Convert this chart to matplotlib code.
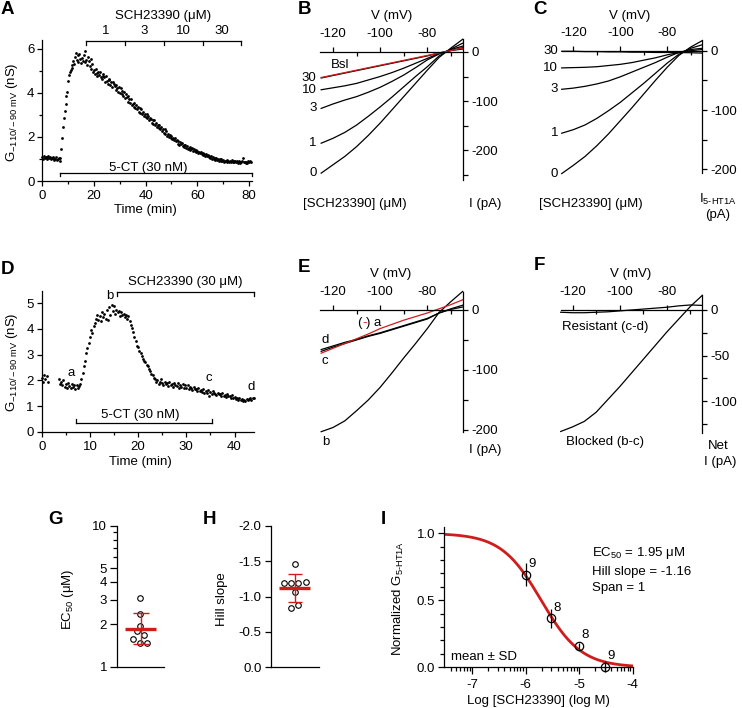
import numpy as np
import matplotlib
matplotlib.use("Agg")
import matplotlib.pyplot as plt
from matplotlib.ticker import FixedLocator, NullFormatter, FormatStrFormatter, FixedFormatter

plt.rcParams['font.family'] = ['Liberation Sans', 'DejaVu Sans']
plt.rcParams['font.size'] = 9.5
plt.rcParams['axes.unicode_minus'] = False
plt.rcParams['mathtext.fontset'] = 'custom'
plt.rcParams['mathtext.rm'] = 'Liberation Sans'
plt.rcParams['mathtext.it'] = 'Liberation Sans:italic'
plt.rcParams['mathtext.default'] = 'regular'
plt.rcParams['axes.linewidth'] = 0.9
plt.rcParams['xtick.major.width'] = 0.9
plt.rcParams['ytick.major.width'] = 0.9
plt.rcParams['xtick.minor.width'] = 0.9
plt.rcParams['ytick.minor.width'] = 0.9

RED = '#d01c1c'

# ---------------- DATA ----------------
# Panel A: G(-110/-90 mV) (nS), 3 samples per minute from t = 0
a_dt = 1.0 / 3.0
a_g = [
    1.08, 1.02, 1.12, 1.05, 1.10, 0.98, 1.07, 1.13, 1.03, 1.09, 1.00, 1.06,
    1.11, 1.04, 0.97, 1.02, 1.08, 0.95, 1.00, 1.06, 0.93, 1.05, 1.45, 1.95,
    2.45, 2.85, 3.20, 3.50, 3.85, 4.05, 4.55, 4.80, 4.95, 5.05, 5.25, 5.15,
    5.45, 5.30, 5.65, 5.80, 5.50, 5.70, 5.40, 5.75, 5.55, 5.35, 5.60, 5.45,
    5.70, 5.40, 5.90, 5.50, 5.25, 5.65, 5.45, 5.20, 5.55, 5.10, 5.30, 4.95,
    5.05, 4.85, 5.10, 4.90, 4.75, 4.95, 4.80, 4.95, 4.70, 4.65, 4.85, 4.75,
    4.70, 4.50, 4.75, 4.55, 4.40, 4.65, 4.60, 4.35, 4.50, 4.25, 4.50, 4.40,
    4.30, 4.15, 4.35, 4.20, 4.05, 4.25, 4.00, 4.20, 3.95, 4.10, 3.85, 4.05,
    3.75, 3.95, 3.80, 3.85, 3.60, 3.70, 3.55, 3.70, 3.45, 3.50, 3.35, 3.55,
    3.30, 3.45, 3.25, 3.35, 3.15, 3.30, 3.10, 3.25, 3.05, 3.15, 2.95, 3.05,
    2.90, 3.05, 2.85, 2.95, 2.75, 2.85, 2.80, 2.65, 2.75, 2.60, 2.75, 2.55,
    2.65, 2.45, 2.55, 2.40, 2.55, 2.35, 2.45, 2.25, 2.35, 2.20, 2.35, 2.15,
    2.25, 2.05, 2.15, 2.00, 2.10, 1.95, 2.05, 1.90, 1.95, 1.85, 1.95, 1.80,
    1.85, 1.70, 1.80, 1.65, 1.78, 1.68, 1.72, 1.60, 1.65, 1.55, 1.62, 1.50,
    1.58, 1.45, 1.52, 1.42, 1.55, 1.45, 1.48, 1.38, 1.43, 1.35, 1.42, 1.32,
    1.38, 1.28, 1.33, 1.25, 1.32, 1.22, 1.28, 1.18, 1.24, 1.15, 1.22, 1.12,
    1.18, 1.08, 1.14, 1.05, 1.12, 1.02, 1.08, 0.99, 1.04, 0.97, 1.03, 0.95,
    1.00, 0.93, 0.98, 0.92, 0.98, 0.90, 0.96, 0.88, 0.93, 0.90, 0.95, 0.87,
    0.93, 0.86, 0.91, 0.88, 0.94, 0.85, 0.91, 0.84, 0.89, 0.86, 0.92, 0.83,
    0.89, 0.82, 0.87, 0.85, 0.90, 1.05, 0.84, 0.88, 0.81, 0.87, 0.83, 0.90,
    0.85, 0.92, 0.88,
]
a_sch_edges = [17, 32, 47, 62, 77]
a_sch_labels = ['1', '3', '10', '30']
a_ct_on = [7, 81]

# Panel D: 4 samples per minute from t = 0 (nan = not recorded)
nan = float('nan')
d_dt = 0.25
d_g = [
    2.10, 1.95, 2.20, 2.05, 2.15, 1.92, nan, nan, nan, nan, nan, nan,
    nan, nan, 2.05, 1.85, 1.95, 1.80, 2.00, 1.75, 1.85, 1.72, 1.90, 1.78,
    1.70, 1.85, 1.75, 1.82, 1.68, 1.80, 1.72, 1.78, 1.85, 2.05, 2.30, 2.55,
    2.75, 3.05, 3.25, 3.45, 3.70, 3.95, 3.85, 4.10, 4.25, 4.40, 4.55, 4.35,
    4.50, 4.30, 4.65, 4.45, 4.60, 4.40, 4.75, 4.35, 4.85, 4.55, 4.95, 4.70,
    4.90, 4.60, 4.75, 4.65, 4.70, 4.50, 4.65, 4.55, 4.60, 4.45, 4.55, 4.40,
    4.50, 4.30, 4.15, 4.05, 3.90, 3.70, 3.55, 3.35, 3.30, 3.15, 3.05, 2.95,
    2.85, 2.75, 2.70, 2.60, 2.55, 2.45, 2.35, 2.25, 2.20, 2.10, 2.05, 1.95,
    2.00, 1.85, 1.95, 2.05, 1.90, 1.80, 1.95, 1.85, 1.88, 1.78, 1.92, 1.82,
    1.85, 1.75, 1.90, 1.80, 1.78, 1.88, 1.72, 1.82, 1.75, 1.85, 1.70, 1.80,
    1.72, 1.82, 1.68, 1.75, 1.70, 1.62, 1.75, 1.66, 1.65, 1.58, 1.70, 1.60,
    1.62, 1.55, 1.66, 1.52, 1.58, 1.50, 1.63, 1.40, 1.55, 1.47, 1.58, 1.50,
    1.48, 1.42, 1.52, 1.45, 1.46, 1.40, 1.50, 1.38, 1.43, 1.36, 1.47, 1.40,
    1.38, 1.33, 1.42, 1.30, 1.36, 1.28, 1.33, 1.25, 1.30, 1.22, 1.28, 1.20,
    1.25, 1.20, 1.28, 1.22, 1.26, 1.30, 1.24, 1.32, 1.30,
]
d_sch_on = [15.7, 44]
d_ct_on = [7.1, 35.3]
d_marks = ['a', 'b', 'c', 'd']
d_mark_t = [6.1, 14.2, 34.6, 43.4]
d_mark_g = [2.27, 5.27, 2.08, 1.75]

# I-V traces (pA) sampled at these voltages (mV)
iv_v = [-125, -120, -115, -110, -105, -100, -95, -90, -85, -80, -75, -70, -65]

# Panel B: total current at each [SCH23390] (uM) and baseline
b_labels = ['0', '1', '3', '10', '30']
b_i0 = [-247, -230, -213, -193, -170, -145, -118, -91, -64, -37, -11, 8, 26]
b_i1 = [-186, -176, -164, -149, -131, -112, -92, -71, -50, -30, -8, 6, 18]
b_i3 = [-115, -106, -98, -91, -82, -72, -60, -47, -32, -16, -4, 5, 12]
b_i10 = [-77, -73, -69, -64, -57, -50, -42, -33, -23, -13, -3, 3, 9]
b_i30 = [-53, -48, -43, -38, -33, -28, -23, -18, -13, -8, -2, 3, 6]
b_bsl = [-52, -47, -42, -37, -32, -27, -22, -17, -12, -7, -2, 3, 8]

# Panel C: 5-HT1A current at each [SCH23390] (uM)
c_i0 = [-207, -193, -178, -160, -140, -118, -96, -73, -50, -28, -8, 6, 17]
c_i1 = [-139, -133, -125, -114, -101, -87, -71, -55, -38, -21, -6, 4, 10]
c_i3 = [-65, -63, -60, -56, -51, -44, -36, -28, -20, -11, -3, 2, 4]
c_i10 = [-29, -28.5, -28, -27, -25, -23, -20, -16, -12, -7, -3, 0, 2]
c_i30 = [-1, -1, -1.5, -1.5, -2, -2, -2.5, -2.5, -3, -3, -3, -3.5, -4]

# Panel E: currents at time points a (control, red), b, c, d
e_a = [-72, -64, -56, -48, -40, -31, -24, -17, -11, -5, 2, 9, 17]
e_b = [-203, -196, -185, -168, -150, -129, -105, -80, -56, -31, -4, 14, 31]
e_c = [-69, -62, -56, -50, -44, -39, -33, -27, -21, -15, -5, 2, 8]
e_d = [-66, -60, -54, -49, -43, -38, -32, -26, -20, -14, -5, 1, 5]

# Panel F: net currents
f_blocked = [-133, -128, -122, -112, -98, -84, -69, -54, -39, -24, -10, 4, 16]
f_resistant = [-2.5, -3, -3, -2.5, -2, -1, 0, 1, 2, 3, 4.5, 5.5, 5]

# Panel G: EC50 (uM) per cell, with horizontal jitter
g_ec50 = [3.09, 2.37, 1.95, 1.79, 1.69, 1.57, 1.47, 1.47]
g_jitter = [0.49, 0.49, 0.49, 0.42, 0.57, 0.34, 0.49, 0.63]

# Panel H: Hill slope per cell
h_slope = [-1.46, -1.19, -1.19, -1.19, -1.21, -1.06, -0.84, -0.88]
h_jitter = [0.50, 0.28, 0.41, 0.57, 0.72, 0.50, 0.41, 0.57]

# Panel I: concentration-response
i_conc_uM = [1, 3, 10, 30]
i_mean = [0.69, 0.365, 0.16, 0.005]
i_sd = [0.085, 0.07, 0.025, 0.04]
i_n = [9, 8, 8, 9]
i_ec50_uM = 1.95
i_hill = -1.16
i_span = 1.0

# ---------------- FIGURE ----------------
W, H = 742, 708
fig = plt.figure(figsize=(W / 100, H / 100), dpi=100)


def pax(x0, y0, x1, y1):
    return fig.add_axes([x0 / W, 1 - y1 / H, (x1 - x0) / W, (y1 - y0) / H])


def ftxt(x, y, s, **kw):
    kw.setdefault('va', 'center')
    kw.setdefault('ha', 'center')
    return fig.text(x / W, 1 - y / H, s, **kw)


def letter(x, y, s):
    ftxt(x, y, s, ha='left', fontsize=13.5, fontweight='bold')


def bracket(ax, x0, x1, yf, tick, divs=()):
    tr = ax.get_xaxis_transform()
    ax.plot([x0, x1], [yf, yf], color='k', lw=0.9, transform=tr, clip_on=False)
    for x in [x0, x1] + list(divs):
        ax.plot([x, x], [yf, yf + tick], color='k', lw=0.9, transform=tr, clip_on=False)


def time_axes(ax):
    for s in ('top', 'right'):
        ax.spines[s].set_visible(False)
    ax.tick_params(which='major', direction='out', length=3.6)
    ax.tick_params(which='minor', direction='out', length=2.4)
    ax.tick_params(axis='x', which='major', pad=3)
    ax.tick_params(axis='y', which='major', pad=2)


# ---- Panel A ----
axA = pax(42.3, 40, 251.6, 181)
tA = np.arange(len(a_g)) * a_dt
axA.scatter(tA, a_g, s=4, c='k', linewidths=0, clip_on=False)
axA.set_xlim(0, 81)
axA.set_ylim(0, 6.4)
axA.set_xticks([0, 20, 40, 60, 80])
axA.xaxis.set_minor_locator(FixedLocator([10, 30, 50, 70]))
axA.set_yticks([0, 2, 4, 6])
axA.yaxis.set_minor_locator(FixedLocator([1, 3, 5]))
time_axes(axA)
bracket(axA, a_sch_edges[0], a_sch_edges[-1], 0.993, -0.025, a_sch_edges[1:-1])
for i, lab in enumerate(a_sch_labels):
    axA.text((a_sch_edges[i] + a_sch_edges[i + 1]) / 2, 1.065, lab,
             transform=axA.get_xaxis_transform(), ha='center', va='center')
ftxt(163, 16, 'SCH23390 (\u03bcM)')
bracket(axA, a_ct_on[0], a_ct_on[1], 0.057, -0.025)
axA.text(np.mean(a_ct_on) - 3, 0.095, '5-CT (30 nM)', transform=axA.get_xaxis_transform(),
         ha='center', va='center')
ftxt(145, 210, 'Time (min)')
ftxt(12, 112, r'G$_{-110/-90\ mV}$ (nS)', rotation=90)
letter(1, 10, 'A')

# ---- Panel D ----
axD = pax(41.7, 290.7, 253.8, 431.7)
tD = np.arange(len(d_g)) * d_dt
axD.scatter(tD, d_g, s=4, c='k', linewidths=0, clip_on=False)
axD.set_xlim(0, 44)
axD.set_ylim(0, 5.49)
axD.set_xticks([0, 10, 20, 30, 40])
axD.xaxis.set_minor_locator(FixedLocator([5, 15, 25, 35]))
axD.set_yticks([0, 1, 2, 3, 4, 5])
time_axes(axD)
bracket(axD, d_sch_on[0], d_sch_on[1], 0.989, -0.028)
ftxt(185, 282.5, 'SCH23390 (30 \u03bcM)')
bracket(axD, d_ct_on[0], d_ct_on[1], 0.06, 0.028)
ftxt(140, 415, '5-CT (30 nM)')
for m, t, g in zip(d_marks, d_mark_t, d_mark_g):
    axD.text(t, g, m, ha='center', va='center')
ftxt(140, 462, 'Time (min)')
ftxt(12, 362, r'G$_{-110/-90\ mV}$ (nS)', rotation=90)
letter(1, 269, 'D')


# ---- I-V panels ----
def iv_axes(x0, y0, x1, y1, xlim, ylim, ymaj, ymin):
    ax = pax(x0, y0, x1, y1)
    ax.set_xlim(*xlim)
    ax.set_ylim(*ylim)
    for s in ('left', 'bottom'):
        ax.spines[s].set_visible(False)
    ax.spines['top'].set_position(('data', 0))
    ax.xaxis.set_ticks_position('top')
    ax.yaxis.set_ticks_position('right')
    ax.set_xticks([-120, -100, -80])
    ax.xaxis.set_minor_locator(FixedLocator([-110, -90, -70]))
    ax.set_yticks(ymaj)
    ax.yaxis.set_minor_locator(FixedLocator(ymin))
    ax.tick_params(axis='x', which='major', direction='out', length=3.5, pad=5)
    ax.tick_params(axis='x', which='minor', direction='in', length=3)
    ax.tick_params(axis='y', which='major', direction='out', length=3.5, pad=2.5)
    ax.tick_params(axis='y', which='minor', direction='out', length=3.5)
    ax.patch.set_visible(False)
    return ax


# Panel B
axB = iv_axes(320, 39, 462.7, 180, (-125.5, -65), (-261, 26.5), [0, -100, -200], [-50, -150, -250])
for lab, tr in zip(b_labels, [b_i0, b_i1, b_i3, b_i10, b_i30]):
    axB.plot(iv_v, tr, color='k', lw=0.9, clip_on=False)
    axB.text(-127, tr[0], lab, ha='right', va='center')
axB.plot(iv_v, b_bsl, color=RED, lw=0.9, clip_on=False)
ftxt(340, 65.5, 'Bsl')
ftxt(392, 15.5, 'V (mV)')
ftxt(302.7, 203.5, '[SCH23390] (\u03bcM)', ha='left')
ftxt(484.7, 203.5, 'I (pA)')
letter(298, 9, 'B')

# Panel C
axC = iv_axes(561.7, 40, 702.3, 173, (-125, -65), (-206, 18), [0, -100, -200], [-50, -150])
for lab, tr in zip(b_labels, [c_i0, c_i1, c_i3, c_i10, c_i30]):
    axC.plot(iv_v, tr, color='k', lw=0.9, clip_on=False)
    axC.text(-126.5, tr[0], lab, ha='right', va='center')
ftxt(630, 15.5, 'V (mV)')
ftxt(539.3, 203.5, '[SCH23390] (\u03bcM)', ha='left')
ftxt(718, 199, r'I$_{5\text{-}HT1A}$')
ftxt(718, 215, '(pA)')
letter(533, 10, 'C')

# Panel E
axE = iv_axes(320, 291.7, 462.7, 431.7, (-125.5, -65), (-203, 30.5), [0, -100, -200], [-50, -150])
axE.plot(iv_v, e_d, color='k', lw=0.9, clip_on=False)
axE.plot(iv_v, e_c, color='k', lw=0.9, clip_on=False)
axE.plot(iv_v, e_b, color='k', lw=0.9, clip_on=False)
axE.plot(iv_v, e_a, color=RED, lw=0.9, clip_on=False)
ftxt(322, 340, 'd', ha='left')
ftxt(322, 361.5, 'c', ha='left')
ftxt(322, 442, 'b', ha='left')
ftxt(357, 323.3, '(', ha='left')
ftxt(362, 323.3, '-', ha='left', color=RED)
ftxt(366.5, 323.3, ') a', ha='left')
ftxt(391, 274, 'V (mV)')
ftxt(484.7, 450, 'I (pA)')
letter(298, 267.5, 'E')

# Panel F
axF = iv_axes(560.7, 295, 702.3, 433.3, (-125, -65), (-135, 16.4), [0, -50, -100], [-25, -75, -125])
axF.plot(iv_v, f_resistant, color='k', lw=0.9, clip_on=False)
axF.plot(iv_v, f_blocked, color='k', lw=0.9, clip_on=False)
ftxt(561.7, 326.7, 'Resistant (c-d)', ha='left')
ftxt(566, 442.5, 'Blocked (b-c)', ha='left')
ftxt(631, 274, 'V (mV)')
ftxt(718, 446, 'Net')
ftxt(720, 461.7, 'I (pA)')
letter(534, 266, 'F')

# ---- Panel G ----
axG = pax(116.7, 526, 164.3, 666.7)
axG.set_yscale('log')
axG.set_ylim(1, 10)
axG.set_xlim(0, 1)
lg = np.log10(g_ec50)
gm, gs = lg.mean(), lg.std(ddof=1)
axG.plot([0.18, 0.83], [10 ** gm, 10 ** gm], color=RED, lw=2.4, zorder=4, solid_capstyle='butt')
axG.errorbar([0.5], [10 ** gm], yerr=[[10 ** gm - 10 ** (gm - gs)], [10 ** (gm + gs) - 10 ** gm]],
             color=RED, lw=1.0, capsize=5.6, capthick=1.0, zorder=4)
axG.scatter(g_jitter, g_ec50, s=16, facecolors='white', edgecolors='k', linewidths=0.8, zorder=3)
for s in ('top', 'right'):
    axG.spines[s].set_visible(False)
axG.set_xticks([])
axG.yaxis.set_major_locator(FixedLocator([1, 2, 3, 4, 5, 10]))
axG.yaxis.set_major_formatter(FixedFormatter(['1', '2', '3', '4', '5', '10']))
axG.yaxis.set_minor_locator(FixedLocator([6, 7, 8, 9]))
axG.yaxis.set_minor_formatter(NullFormatter())
axG.tick_params(axis='y', which='major', length=5, pad=2)
axG.tick_params(axis='y', which='minor', length=3)
ftxt(67.5, 599, 'EC$_{50}$ (\u03bcM)', rotation=90)
letter(48, 520, 'G')

# ---- Panel H ----
axH = pax(271, 526, 319, 667.3)
axH.set_ylim(0, -2)
axH.set_xlim(0, 1)
hm, hs = np.mean(h_slope), np.std(h_slope, ddof=1)
axH.plot([0.17, 0.81], [hm, hm], color=RED, lw=2.4, zorder=4, solid_capstyle='butt')
axH.errorbar([0.5], [hm], yerr=[hs], color=RED, lw=1.0, capsize=5, capthick=1.0, zorder=4)
axH.scatter(h_jitter, h_slope, s=16, facecolors='white', edgecolors='k', linewidths=0.8, zorder=3)
for s in ('top', 'right'):
    axH.spines[s].set_visible(False)
axH.set_xticks([])
axH.set_yticks([0, -0.5, -1.0, -1.5, -2.0])
axH.yaxis.set_major_formatter(FormatStrFormatter('%.1f'))
axH.tick_params(axis='y', which='major', length=4.3, pad=2.4)
ftxt(221.7, 599, 'Hill slope', rotation=90)
letter(203, 520, 'H')

# ---- Panel I ----
axI = pax(444.3, 526.7, 632.7, 667.3)
axI.set_xlim(-7.52, -4)
axI.set_ylim(0, 1.049)
xs = np.linspace(-7.52, -4, 300)
log_ec50 = np.log10(i_ec50_uM * 1e-6)
axI.plot(xs, (1 - i_span) + i_span / (1 + 10 ** ((log_ec50 - xs) * i_hill)), color=RED, lw=2.0, zorder=2)
xc = np.log10(np.array(i_conc_uM) * 1e-6)
axI.errorbar(xc, i_mean, yerr=i_sd, fmt='o', mfc='none', mec='k', mew=0.9, ms=6,
             ecolor='k', elinewidth=0.9, capsize=0, zorder=3, clip_on=False)
for x, y, n in zip(xc, i_mean, i_n):
    axI.annotate(str(n), (x, y), xytext=(4.5, 7.7), textcoords='offset points', ha='center', va='center')
for s in ('top', 'right'):
    axI.spines[s].set_visible(False)
axI.set_xticks([-7, -6, -5, -4])
minors = [d + np.log10(k) for d in range(-8, -4) for k in range(2, 10)]
axI.xaxis.set_minor_locator(FixedLocator([m for m in minors if -7.52 <= m <= -4]))
axI.set_yticks([0, 0.5, 1.0])
axI.yaxis.set_major_formatter(FormatStrFormatter('%.1f'))
axI.yaxis.set_minor_locator(FixedLocator([0.1, 0.2, 0.3, 0.4, 0.6, 0.7, 0.8, 0.9]))
axI.tick_params(which='major', length=4.5, pad=2)
axI.tick_params(which='minor', length=2.6)
axI.tick_params(axis='x', which='major', length=5, pad=3.5)
ftxt(591.7, 553.3, 'EC$_{50}$ = %.2f \u03bcM' % i_ec50_uM, ha='left')
ftxt(591.7, 571.7, 'Hill slope = %.2f' % i_hill, ha='left')
ftxt(591.7, 588.3, 'Span = %g' % i_span, ha='left')
ftxt(450.7, 657.3, 'mean \u00b1 SD', ha='left')
ftxt(538.3, 701, 'Log [SCH23390] (log M)')
ftxt(398, 598, r'Normalized G$_{5\text{-}HT1A}$', rotation=90)
letter(381, 520, 'I')

fig.savefig('out.png', dpi=100)
